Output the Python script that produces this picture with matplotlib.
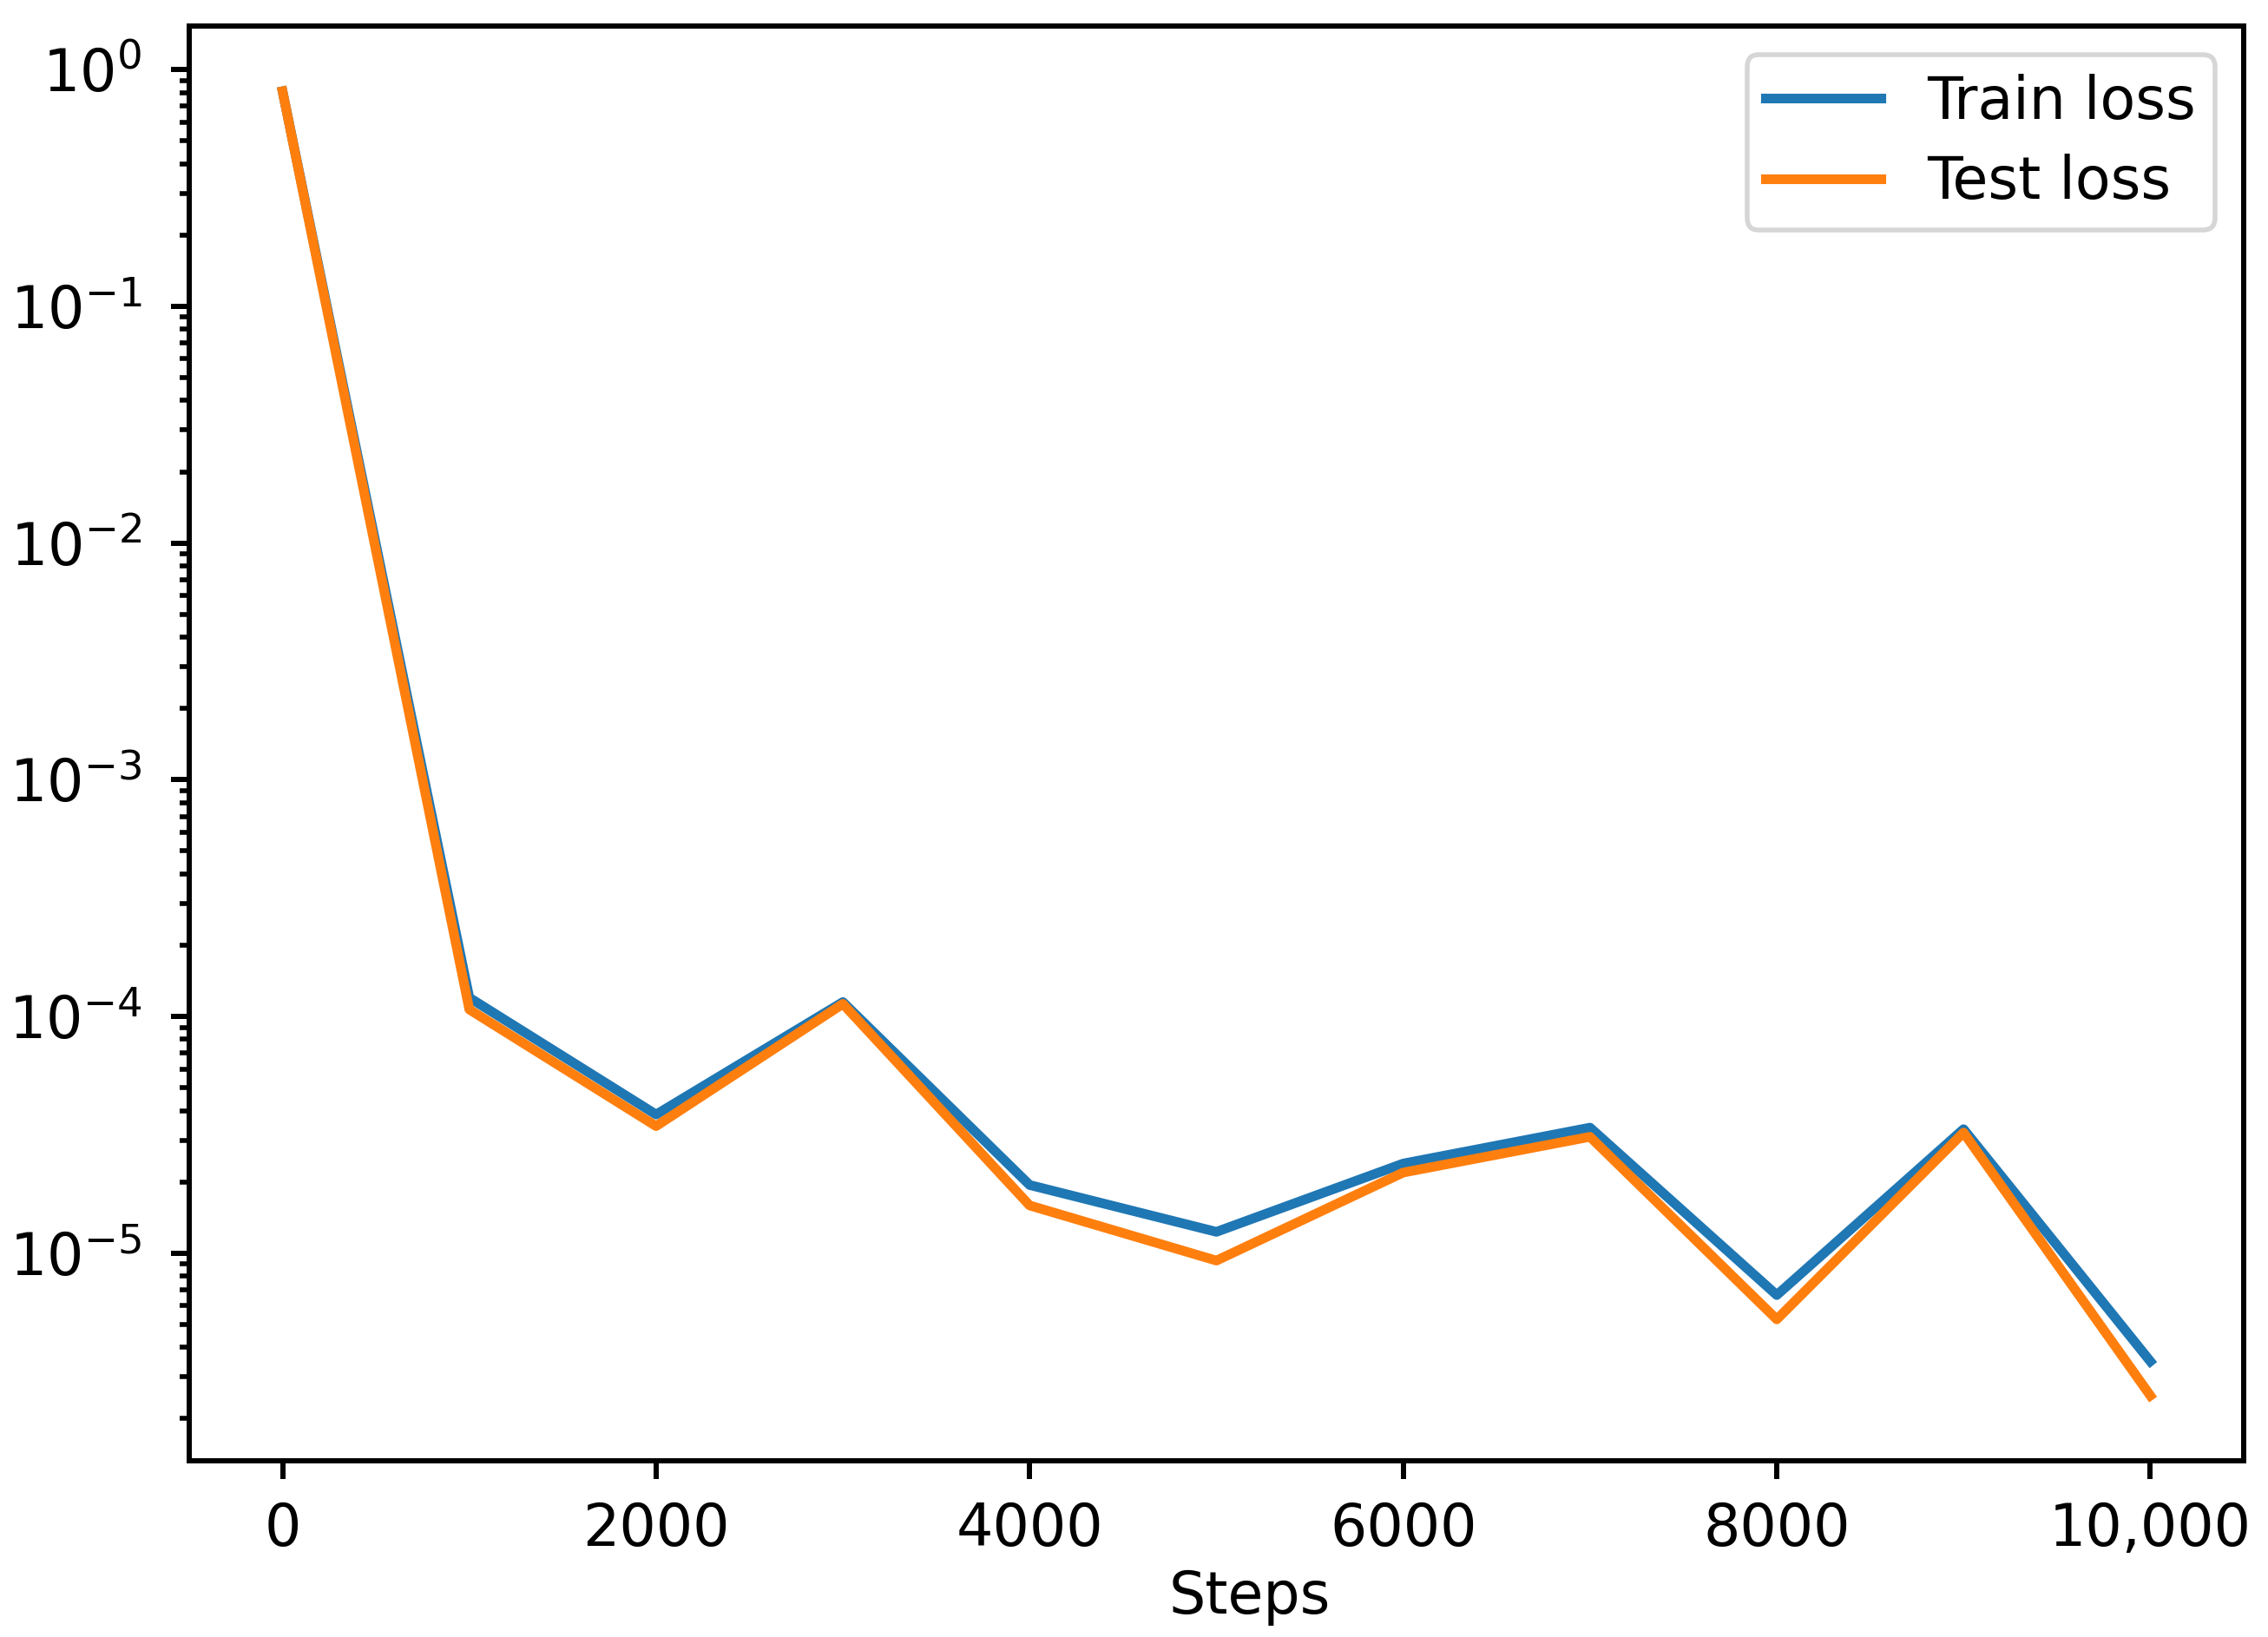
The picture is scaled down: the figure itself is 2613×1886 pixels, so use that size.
import matplotlib
matplotlib.use("Agg")
import matplotlib.pyplot as plt

steps = [0, 1000, 2000, 3000, 4000, 5000, 6000, 7000, 8000, 9000, 10000]
train_loss = [0.81, 1.2e-4, 3.85e-5, 1.15e-4, 1.94e-5, 1.23e-5, 2.39e-5, 3.39e-5, 6.65e-6, 3.34e-5, 3.49e-6]
test_loss = [0.81, 1.07e-4, 3.44e-5, 1.13e-4, 1.59e-5, 9.3e-6, 2.19e-5, 3.1e-5, 5.25e-6, 3.23e-5, 2.5e-6]
xtick_values = [0, 2000, 4000, 6000, 8000, 10000]
xtick_labels = ["0", "2000", "4000", "6000", "8000", "10,000"]

plt.rcParams['font.family'] = ['DejaVu Sans']
plt.rcParams['font.size'] = 12

fig = plt.figure(figsize=(2613 / 400, 1886 / 400), dpi=400)
ax = fig.add_axes([0.0834, 0.1076, 0.9059, 0.8765])
ax.plot(steps, train_loss, color='tab:blue', lw=2, label='Train loss')
ax.plot(steps, test_loss, color='tab:orange', lw=2, label='Test loss')
ax.set_yscale('log')
ax.set_xticks(xtick_values)
ax.set_xticklabels(xtick_labels)
for s in ax.spines.values():
    s.set_linewidth(1.08)
ax.tick_params(which='major', width=1.08, length=3.8)
ax.tick_params(which='minor', width=1.0, length=2.0)
ax.tick_params(axis='y', which='major', pad=6)
ax.tick_params(axis='x', which='major', pad=4.5)
ax.set_xlabel('Steps')
ax.xaxis.set_label_coords(0.516, -0.075)
ax.legend(loc='upper right', labelspacing=0.4, borderpad=0.32)
fig.savefig('out.png', dpi=400)
